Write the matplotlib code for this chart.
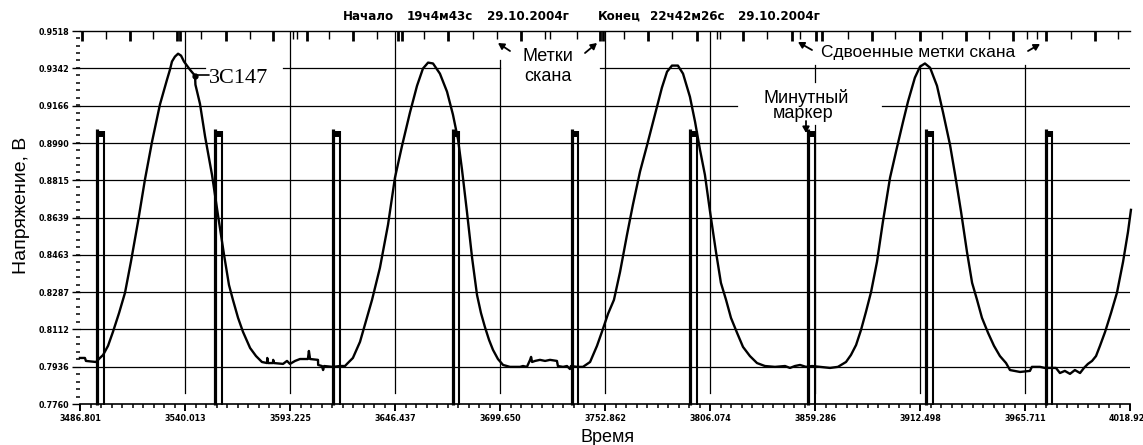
import matplotlib
matplotlib.use('Agg')
import matplotlib.pyplot as plt
from matplotlib.ticker import AutoMinorLocator

plt.rcParams['font.family'] = ['Liberation Sans', 'DejaVu Sans']

t = [3486.8, 3489.3, 3489.8, 3494.9, 3496.9, 3498.5, 3501.0, 3503.5, 3506.6, 3509.6,
     3512.6, 3516.2, 3519.7, 3523.3, 3527.3, 3530.9, 3532.4, 3533.4, 3534.9, 3536.5,
     3538.0, 3539.5, 3542.5, 3545.1, 3545.3, 3547.6, 3550.2, 3553.7, 3556.7, 3559.8,
     3562.3, 3564.3, 3566.9, 3569.4, 3573.0, 3576.0, 3579.0, 3581.6, 3581.7, 3582.1,
     3584.6, 3584.7, 3585.1, 3589.7, 3591.7, 3593.2, 3595.8, 3598.3, 3602.3, 3602.8,
     3603.4, 3607.4, 3607.5, 3609.4, 3610.0, 3610.5, 3615.0, 3618.6, 3621.1, 3622.1,
     3625.1, 3628.7, 3632.2, 3634.8, 3638.8, 3642.9, 3646.4, 3650.0, 3654.0, 3657.6,
     3660.6, 3663.2, 3665.7, 3669.2, 3672.8, 3675.8, 3678.4, 3680.4, 3682.9, 3685.5,
     3688.0, 3690.0, 3692.0, 3694.1, 3696.1, 3698.6, 3701.2, 3704.7, 3709.8, 3711.3,
     3713.3, 3714.9, 3715.4, 3715.9, 3717.4, 3719.9, 3722.5, 3725.0, 3728.5, 3729.0,
     3731.6, 3733.6, 3735.1, 3735.6, 3738.7, 3741.7, 3745.3, 3748.8, 3751.3, 3754.4,
     3757.4, 3760.5, 3764.0, 3767.0, 3770.6, 3774.1, 3778.2, 3781.7, 3784.3, 3786.8,
     3789.8, 3792.4, 3795.9, 3798.5, 3801.0, 3803.5, 3806.1, 3809.1, 3811.6, 3814.2,
     3816.7, 3819.8, 3822.8, 3826.3, 3829.9, 3833.9, 3839.0, 3844.1, 3846.6, 3849.1,
     3851.7, 3854.7, 3857.8, 3861.8, 3866.9, 3870.9, 3875.0, 3877.5, 3880.1, 3882.6,
     3885.1, 3887.7, 3890.7, 3893.7, 3897.3, 3900.8, 3903.9, 3906.4, 3909.9, 3912.5,
     3915.0, 3917.6, 3921.1, 3924.2, 3927.7, 3930.3, 3933.3, 3936.3, 3938.9, 3941.4,
     3943.9, 3947.0, 3950.0, 3953.0, 3956.1, 3958.1, 3963.2, 3968.2, 3969.2, 3973.3,
     3975.8, 3981.4, 3983.4, 3985.9, 3988.5, 3991.0, 3993.6, 3995.6, 3997.6, 3999.7,
     4001.7, 4003.7, 4006.3, 4009.3, 4012.3, 4015.4, 4017.9, 4019.4]
v = [0.7977, 0.7977, 0.7963, 0.7958, 0.7977, 0.7991, 0.8034, 0.8100, 0.8189, 0.8284,
     0.8430, 0.8619, 0.8817, 0.8996, 0.9171, 0.9289, 0.9336, 0.9374, 0.9397, 0.9411,
     0.9402, 0.9374, 0.9336, 0.9307, 0.9265, 0.9175, 0.9020, 0.8840, 0.8652, 0.8463,
     0.8321, 0.8251, 0.8166, 0.8100, 0.8024, 0.7986, 0.7958, 0.7953, 0.7977, 0.7953,
     0.7953, 0.7968, 0.7953, 0.7949, 0.7963, 0.7949, 0.7963, 0.7972, 0.7972, 0.8010,
     0.7972, 0.7968, 0.7944, 0.7939, 0.7920, 0.7939, 0.7935, 0.7939, 0.7939, 0.7949,
     0.7977, 0.8053, 0.8166, 0.8251, 0.8402, 0.8605, 0.8826, 0.8977, 0.9133, 0.9260,
     0.9341, 0.9369, 0.9365, 0.9317, 0.9232, 0.9124, 0.9006, 0.8864, 0.8666, 0.8449,
     0.8274, 0.8189, 0.8123, 0.8062, 0.8015, 0.7972, 0.7944, 0.7935, 0.7935, 0.7939,
     0.7935, 0.7968, 0.7982, 0.7958, 0.7963, 0.7968, 0.7963, 0.7968, 0.7963, 0.7939,
     0.7935, 0.7939, 0.7925, 0.7939, 0.7935, 0.7935, 0.7958, 0.8034, 0.8100, 0.8185,
     0.8251, 0.8383, 0.8557, 0.8699, 0.8855, 0.8977, 0.9124, 0.9251, 0.9326, 0.9355,
     0.9355, 0.9317, 0.9208, 0.9090, 0.8958, 0.8840, 0.8666, 0.8477, 0.8331, 0.8251,
     0.8166, 0.8095, 0.8029, 0.7986, 0.7953, 0.7939, 0.7935, 0.7939, 0.7930, 0.7939,
     0.7944, 0.7935, 0.7939, 0.7935, 0.7930, 0.7935, 0.7958, 0.7991, 0.8038, 0.8109,
     0.8194, 0.8288, 0.8430, 0.8619, 0.8826, 0.8968, 0.9090, 0.9185, 0.9298, 0.9350,
     0.9365, 0.9345, 0.9260, 0.9133, 0.8982, 0.8840, 0.8666, 0.8477, 0.8331, 0.8251,
     0.8166, 0.8095, 0.8034, 0.7986, 0.7953, 0.7920, 0.7911, 0.7916, 0.7935, 0.7935,
     0.7930, 0.7930, 0.7906, 0.7916, 0.7902, 0.7920, 0.7906, 0.7930, 0.7949, 0.7963,
     0.7986, 0.8034, 0.8100, 0.8189, 0.8284, 0.8430, 0.8571, 0.8675]

# minute marker pulses (start time), pulse width and levels
minute_t = [3495.4, 3555.3, 3615.1, 3675.7, 3735.9, 3795.9, 3855.7, 3915.5, 3976.2]
minute_w = 3.4
minute_top = 0.9045
minute_low = 0.7755

# scan marks along the top edge, 1 = heavy mark
scan_t = [3487.8, 3500.0, 3512.1, 3523.8, 3536.0, 3537.5, 3548.1, 3560.8, 3572.9, 3584.6,
          3594.7, 3596.8, 3601.8, 3613.0, 3625.1, 3637.3, 3648.0, 3650.0, 3661.1, 3673.3,
          3686.0, 3698.1, 3710.3, 3722.5, 3725.0, 3738.7, 3750.3, 3751.8, 3762.5, 3774.7,
          3786.8, 3799.5, 3809.6, 3811.1, 3822.8, 3835.0, 3847.6, 3851.7, 3859.8, 3862.8,
          3876.0, 3888.2, 3899.8, 3912.5, 3923.6, 3935.8, 3947.5, 3959.6, 3966.7, 3971.8,
          3976.3, 3989.0, 4001.2, 4012.8]
scan_heavy = [1, 0, 1, 0, 1, 1, 0, 1, 0, 1,
              0, 0, 1, 0, 1, 0, 1, 1, 0, 1,
              0, 0, 1, 0, 0, 0, 1, 1, 0, 1,
              0, 1, 0, 0, 1, 0, 1, 0, 1, 1,
              0, 1, 0, 1, 0, 1, 0, 1, 0, 0,
              1, 0, 1, 0]

yticks = [0.7760, 0.7936, 0.8112, 0.8287, 0.8463, 0.8639, 0.8815, 0.8990, 0.9166, 0.9342, 0.9518]
xticks = [3486.801, 3540.013, 3593.225, 3646.437, 3699.650, 3752.862, 3806.074,
          3859.286, 3912.498, 3965.711, 4018.920]

W, H = 1143, 445


def fpos(px, py):
    return px / W, 1 - py / H


fig = plt.figure(figsize=(W / 100, H / 100), dpi=100)
ax = fig.add_axes([80 / W, 1 - 404 / H, 1050 / W, 373 / H])
ax.set_xlim(xticks[0], xticks[-1])
ax.set_ylim(yticks[0], yticks[-1])

# grid, with gaps where the notes sit
hgaps = {0.9342: [(0, 0.119), (0.193, 0.400), (0.495, 1)],
         0.9166: [(0, 0.626), (0.764, 1)]}
for y in yticks[1:-1]:
    for a, b in hgaps.get(y, [(0, 1)]):
        ax.axhline(y, a, b, color='black', lw=0.9, zorder=1)
vspans = {3699.650: [(0.0295, 0.922)],
          3859.286: [(0.0295, 0.748), (0.863, 0.909)],
          3912.498: [(0.0295, 0.909)],
          3965.711: [(0.0295, 0.909)]}
for x in xticks[1:-1]:
    for a, b in vspans.get(x, [(0.0295, 1)]):
        ax.axvline(x, a, b, color='black', lw=0.9, zorder=1)

# the trace
ax.plot(t, v, color='black', lw=1.7, zorder=4, clip_on=False)

# minute markers
for m in minute_t:
    ax.plot([m, m], [minute_low, minute_top + 0.0012], color='black', lw=2.3,
            solid_capstyle='butt', zorder=5, clip_on=False)
    ax.plot([m + minute_w, m + minute_w], [minute_low, minute_top], color='black', lw=1.5,
            solid_capstyle='butt', zorder=5, clip_on=False)
    ax.plot([m, m + minute_w], [minute_top - 0.0014] * 2, color='black', lw=4.3,
            solid_capstyle='butt', zorder=5)

# scan marks hanging from the top edge
for s, hv in zip(scan_t, scan_heavy):
    ax.vlines(s, yticks[-1] - (0.0048 if hv else 0.0040), yticks[-1], color='black',
              lw=2.0 if hv else 1.0, zorder=6)

# axes look
for side in ['left', 'right']:
    ax.spines[side].set_visible(False)
ax.spines['bottom'].set_linewidth(1.2)
ax.spines['top'].set_linewidth(1.0)
ax.set_yticks(yticks)
ax.set_yticklabels(['%.4f' % y for y in yticks])
ax.set_xticks(xticks)
ax.set_xticklabels(['%.3f' % x for x in xticks])
ax.yaxis.set_minor_locator(AutoMinorLocator(5))
ax.xaxis.set_minor_locator(AutoMinorLocator(10))
ax.tick_params(axis='y', which='major', length=6, width=1, pad=1.8)
ax.tick_params(axis='y', which='minor', length=3, width=1.1)
ax.tick_params(axis='x', which='major', length=5, width=1.4, pad=2)
ax.tick_params(axis='x', which='minor', length=3, width=1.1)
for lab in ax.get_xticklabels() + ax.get_yticklabels():
    lab.set_fontfamily('DejaVu Sans')
    lab.set_fontweight('bold')
    lab.set_fontsize(5.8)

# axis titles
fig.text(*fpos(22, 205), 'Напряжение, В', rotation=90, ha='center', va='center', fontsize=14)
fig.text(*fpos(608, 437), 'Время', ha='center', va='center', fontsize=13)

# header
head = [(343, 'Начало'), (407, '19ч4м43с'), (487, '29.10.2004г'),
        (598, 'Конец'), (650, '22ч42м26с'), (738, '29.10.2004г')]
for hx, s in head:
    fig.text(*fpos(hx, 20), s, ha='left', va='baseline', fontsize=8.6,
             fontweight='bold', family='DejaVu Sans')

# notes
fig.text(*fpos(548, 61), 'Метки', ha='center', va='baseline', fontsize=13)
fig.text(*fpos(548, 81), 'скана', ha='center', va='baseline', fontsize=13)
fig.text(*fpos(918, 57), 'Сдвоенные метки скана', ha='center', va='baseline', fontsize=12.5)
fig.text(*fpos(806, 103), 'Минутный', ha='center', va='baseline', fontsize=13)
fig.text(*fpos(803, 118), 'маркер', ha='center', va='baseline', fontsize=13)

arrows = [((510, 51), (498, 43)), ((585, 53), (597, 43)),
          ((812, 50), (798, 42)), ((1028, 51), (1040, 44)),
          ((806, 121), (806, 133))]
for (x0, y0), (x1, y1) in arrows:
    ax.annotate('', xy=fpos(x1, y1), xycoords='figure fraction',
                xytext=fpos(x0, y0), textcoords='figure fraction',
                arrowprops=dict(arrowstyle='-|>,head_length=0.35,head_width=0.2',
                                color='black', lw=1.3, shrinkA=0, shrinkB=0))

# source label
ax.plot(3545.1, 0.9307, 'o', color='black', ms=3.5, zorder=5)
ax.annotate('', xy=fpos(196, 75), xycoords='figure fraction',
            xytext=fpos(209, 75), textcoords='figure fraction',
            arrowprops=dict(arrowstyle='-', color='black', lw=1.2, shrinkA=0, shrinkB=0))
fig.text(*fpos(209, 83), '3C147', ha='left', va='baseline', fontsize=16,
         family='Liberation Serif')

fig.savefig('out.png', dpi=100)
